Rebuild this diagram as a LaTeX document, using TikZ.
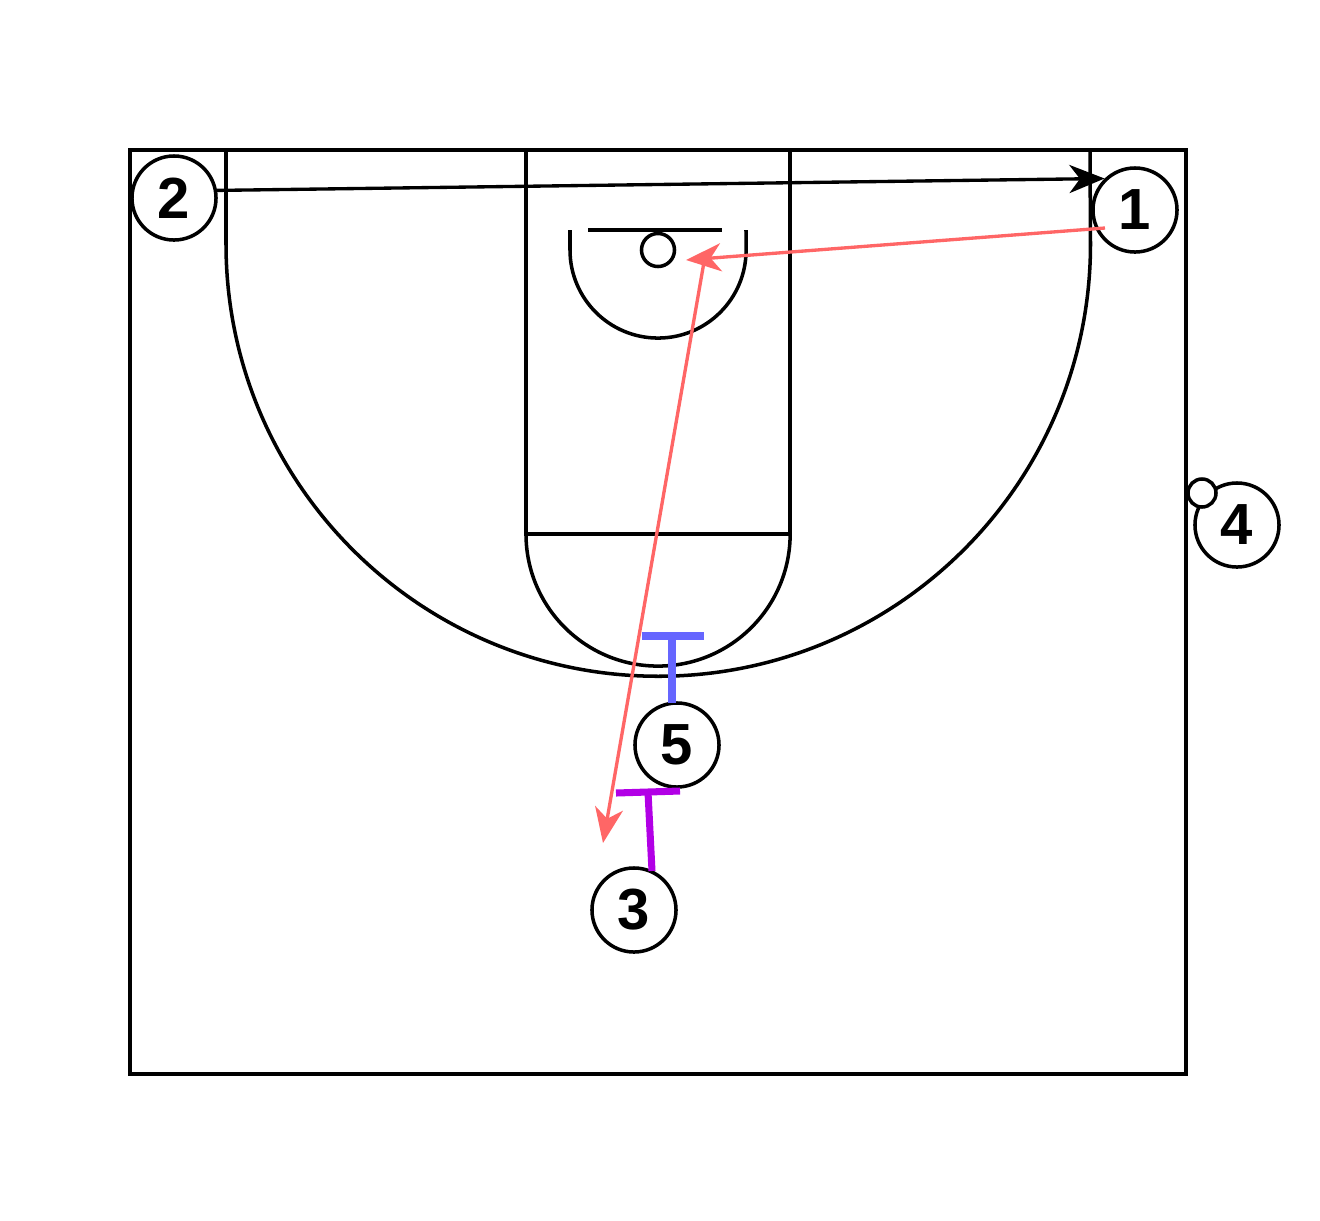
\documentclass[tikz,border=0pt]{standalone}
\usepackage{fontspec}
\setmainfont{Liberation Sans}
\usetikzlibrary{arrows.meta}
\definecolor{redline}{RGB}{255,102,102}
\definecolor{blueline}{RGB}{102,102,255}
\definecolor{purpline}{RGB}{178,0,230}
\begin{document}
\begin{tikzpicture}[x=0.01cm,y=-0.01cm,
  court/.style={line width=1pt,black},
  player/.style={circle,draw=black,line width=1pt,fill=white,minimum size=0.84cm,inner sep=0pt,font=\fontsize{16.5}{16.5}\selectfont\bfseries},
  ball/.style={circle,draw=black,line width=1pt,fill=white,minimum size=0.28cm,inner sep=0pt},
  hoop/.style={circle,draw=black,line width=1pt,fill=white,minimum size=0.33cm,inner sep=0pt},
  pass/.style={line width=0.95pt,-{Stealth[length=10pt,width=8pt,inset=3pt]}},
  screen/.style={line width=2pt}]
\useasboundingbox (0,0) rectangle (1320,1220);
% court
\draw[court] (130,150) rectangle (1186,1074);
\draw[court] (526,150) -- (526,534) -- (790,534) -- (790,150);
\draw[court] (526,534) arc[start angle=180,end angle=360,radius=1.32cm];
\draw[court] (226,150) -- (226,244) arc[start angle=180,end angle=360,radius=4.32cm] -- (1090,150);
\draw[court] (588,230) -- (722,230);
\draw[court] (570,230) -- (570,250) arc[start angle=180,end angle=360,radius=0.88cm] -- (746,230);
\node[hoop] (basket) at (658,250) {};
% players
\node[player] (p2) at (174,198) {2};
\node[player] (p1) at (1135,210) {1};
\node[player] (p4) at (1237,525) {4};
\node[ball] (ball) at (1202,493) {};
\node[player] (p5) at (677,745) {5};
\node[player] (p3) at (634,910) {3};
% coordinates
\coordinate (st1) at (1105,228);
\coordinate (tip1) at (686,260);
\coordinate (st2) at (704,262);
\coordinate (tip2) at (603,843);
\coordinate (s5a) at (642,636);
\coordinate (s5b) at (704,636);
\coordinate (s5m) at (672,636);
\coordinate (s5p) at (672,703);
\coordinate (s3a) at (616,793);
\coordinate (s3b) at (680,791);
\coordinate (s3m) at (648,792);
\coordinate (s3p) at (652,871);
% passes / cuts
\draw[pass] (p2.10) -- (p1.134);
\draw[pass,redline] (st1) -- (tip1);
\draw[pass,redline] (st2) -- (tip2);
% screens
\draw[screen,blueline] (s5a) -- (s5b);
\draw[screen,blueline] (s5m) -- (s5p);
\draw[screen,purpline] (s3a) -- (s3b);
\draw[screen,purpline] (s3m) -- (s3p);
\end{tikzpicture}
\end{document}
